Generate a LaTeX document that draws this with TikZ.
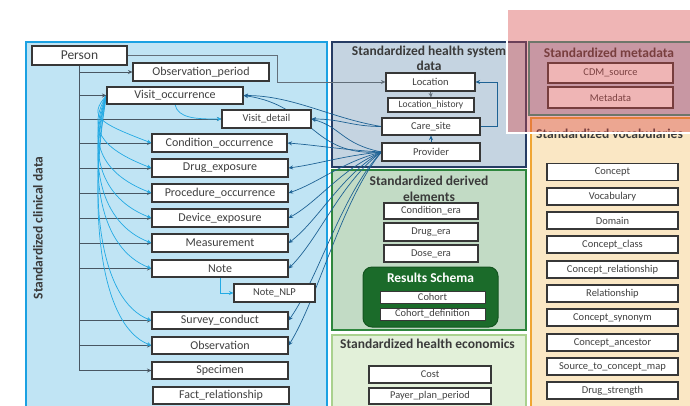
\documentclass[tikz,border=0pt]{standalone}
\usepackage{fontspec}
\setmainfont{Carlito}
\usetikzlibrary{arrows.meta,calc}
\pgfdeclarelayer{panels}
\pgfdeclarelayer{links}
\pgfdeclarelayer{top}
\pgfsetlayers{panels,links,main,top}

\definecolor{clinfill}{RGB}{192,228,244}
\definecolor{clindraw}{RGB}{27,161,226}
\definecolor{hsfill}{RGB}{197,212,225}
\definecolor{hsdraw}{RGB}{38,60,100}
\definecolor{derfill}{RGB}{194,219,197}
\definecolor{derdraw}{RGB}{46,135,62}
\definecolor{resfill}{RGB}{27,107,42}
\definecolor{resdraw}{RGB}{20,85,32}
\definecolor{econfill}{RGB}{226,240,217}
\definecolor{econdraw}{RGB}{169,209,142}
\definecolor{metafill}{RGB}{190,205,225}
\definecolor{metadraw}{RGB}{40,150,130}
\definecolor{vocfill}{RGB}{250,231,196}
\definecolor{vocdraw}{RGB}{240,165,50}
\definecolor{boxc}{RGB}{55,55,55}
\definecolor{txt}{RGB}{64,64,64}
\definecolor{ttlc}{RGB}{58,58,58}
\definecolor{spinec}{RGB}{72,86,98}
\definecolor{fkc}{RGB}{30,98,148}
\definecolor{vlc}{RGB}{35,170,228}
\definecolor{ovl}{RGB}{215,70,70}

\begin{document}
\begin{tikzpicture}[x=1pt,y=-1pt,
  tbl/.style={draw=boxc, line width=1.1pt, fill=white, inner sep=0pt, text=txt},
  clinbox/.style={tbl, font=\fontsize{12}{14}\selectfont, minimum width=136pt, minimum height=18pt},
  subbox/.style={tbl, font=\fontsize{10.5}{12}\selectfont, minimum height=18pt},
  hsbox/.style={tbl, font=\fontsize{10.5}{12}\selectfont, minimum width=98pt, minimum height=17pt},
  derbox/.style={tbl, font=\fontsize{10.4}{12}\selectfont, minimum width=94pt, minimum height=17pt},
  cohbox/.style={tbl, line width=0.9pt, font=\fontsize{10.4}{12}\selectfont, minimum width=105pt, minimum height=12pt},
  econbox/.style={tbl, font=\fontsize{10.4}{12}\selectfont, minimum width=122pt, minimum height=17pt},
  metabox/.style={tbl, font=\fontsize{10.4}{12}\selectfont, minimum width=125pt, minimum height=20pt},
  vocbox/.style={tbl, font=\fontsize{10.5}{12}\selectfont, minimum width=131pt, minimum height=17pt},
  ttl/.style={font=\fontsize{13.5}{15.5}\selectfont\bfseries, text=ttlc, align=center, inner sep=0pt},
  tip/.style={-{Stealth[length=4.5pt,width=4pt]}},
  spine/.style={tip, draw=spinec, line width=0.8pt},
  plink/.style={tip, draw=spinec!85, line width=0.8pt},
  fklink/.style={tip, draw=fkc, line width=0.7pt},
  volink/.style={tip, draw=vlc, line width=0.7pt}]

\useasboundingbox (0,0) rectangle (690,405);
\clip (0,0) rectangle (690,405);

% ---------- domain panels ----------
\begin{pgfonlayer}{panels}
  \filldraw[fill=clinfill, draw=clindraw, line width=1.6pt] (26,42) rectangle (327,412);
  \filldraw[fill=hsfill, draw=hsdraw, line width=1.2pt] (332,42) rectangle (526,167);
  \filldraw[fill=derfill, draw=derdraw, line width=1.2pt] (332,170) rectangle (526,330);
  \filldraw[fill=econfill, draw=econdraw, line width=1.2pt] (332,335) rectangle (526,412);
  \filldraw[fill=metafill, draw=metadraw, line width=1.2pt] (529,42) rectangle (700,115);
  \filldraw[fill=vocfill, draw=vocdraw, line width=1.6pt] (531,118) rectangle (700,412);
\end{pgfonlayer}

% ---------- panel titles ----------
\node[ttl, rotate=90] (clintitle) at (38,228) {Standardized clinical data};
\node[ttl, font=\fontsize{13.5}{15.5}\selectfont\bfseries] (hstitle) at (429,58.5) {Standardized health system\\data};
\node[ttl, font=\fontsize{13.5}{16}\selectfont\bfseries] (dertitle) at (429,189) {Standardized derived\\elements};
\node[ttl] (econtitle) at (427.5,343.5) {Standardized health economics};
\node[ttl] (metatitle) at (609,52.5) {Standardized metadata};
\node[ttl] (voctitle) at (609.5,134) {Standardized vocabularies};

% ---------- clinical tables ----------
\node[clinbox, minimum width=95pt, minimum height=19pt, font=\fontsize{13.5}{15}\selectfont] (person) at (79.5,55.5) {Person};
\node[clinbox] (obsper) at (201,72) {Observation\_period};
\node[clinbox, minimum height=17pt] (visitocc) at (175,95.5) {Visit\_occurrence};
\node[subbox, minimum width=89pt] (visitdet) at (266.5,119) {Visit\_detail};
\node[clinbox, minimum width=135pt] (cond) at (219.5,143) {Condition\_occurrence};
\node[clinbox] (drug) at (220,168) {Drug\_exposure};
\node[clinbox] (proc) at (220,193) {Procedure\_occurrence};
\node[clinbox] (dev) at (220,218) {Device\_exposure};
\node[clinbox] (meas) at (220,243) {Measurement};
\node[clinbox, minimum height=17pt] (note) at (220,268.5) {Note};
\node[subbox, minimum width=81pt] (notenlp) at (274.5,293) {Note\_NLP};
\node[clinbox, minimum height=17pt] (survey) at (220,320.5) {Survey\_conduct};
\node[clinbox, minimum height=17pt] (obs) at (220,345.5) {Observation};
\node[clinbox, minimum height=17pt] (specimen) at (220,370.5) {Specimen};
\node[clinbox, minimum height=17pt] (fact) at (221,395.5) {Fact\_relationship};

% ---------- health system tables ----------
\node[hsbox, minimum width=89pt, minimum height=18pt] (location) at (430.5,82) {Location};
\node[hsbox, minimum width=86pt, minimum height=14pt, font=\fontsize{9.6}{11}\selectfont] (lochist) at (431,105) {Location\_history};
\node[hsbox] (caresite) at (431,126.5) {Care\_site};
\node[hsbox, minimum height=18pt] (provider) at (431,152) {Provider};

% ---------- derived elements ----------
\node[derbox, minimum height=16pt] (condera) at (431,211) {Condition\_era};
\node[derbox, minimum height=18pt] (drugera) at (431,232) {Drug\_era};
\node[derbox] (doseera) at (431,253.5) {Dose\_era};
\node[draw=resdraw, fill=resfill, line width=1pt, rounded corners=9pt, minimum width=135pt, minimum height=60pt, inner sep=0pt] (results) at (430.5,297) {};
\node[ttl, text=white] (restitle) at (430.5,278) {Results Schema};
\node[cohbox] (cohort) at (432.5,297) {Cohort};
\node[cohbox] (cohortdef) at (432.5,314) {Cohort\_definition};

% ---------- health economics ----------
\node[econbox] (cost) at (430,374.5) {Cost};
\node[econbox, minimum height=16pt] (payer) at (430,396) {Payer\_plan\_period};

% ---------- metadata ----------
\node[metabox] (cdmsource) at (610.5,73) {CDM\_source};
\node[metabox, minimum height=21pt] (metadata) at (610.5,97.5) {Metadata};

% ---------- vocabularies ----------
\node[vocbox] (concept) at (612.5,172) {Concept};
\node[vocbox] (vocabulary) at (612.5,196.5) {Vocabulary};
\node[vocbox] (domain) at (612.5,220.5) {Domain};
\node[vocbox] (conceptclass) at (612.5,244.5) {Concept\_class};
\node[vocbox] (conceptrel) at (612.5,269.5) {Concept\_relationship};
\node[vocbox] (relationship) at (612.5,293.5) {Relationship};
\node[vocbox] (conceptsyn) at (612.5,317.5) {Concept\_synonym};
\node[vocbox] (conceptanc) at (612.5,342.5) {Concept\_ancestor};
\node[vocbox] (stcm) at (612.5,366.5) {Source\_to\_concept\_map};
\node[vocbox] (drugstrength) at (612.5,390.5) {Drug\_strength};

% ---------- references between tables ----------
\begin{pgfonlayer}{links}
  % person_id spine
  \draw[spine] (person.south) |- (specimen.west);
  \foreach \t in {obsper,visitocc,visitdet,cond,drug,proc,dev,meas,note,survey,obs}
    \draw[spine] (person.south |- \t.west) -- (\t.west);
  % person -> location
  \coordinate (pbend) at (277,0);
  \draw[plink] (person.east) -| (pbend |- location.west) -- (location.west);
  % visit_occurrence_id
  \foreach \t in {cond,drug,proc,dev,meas,note,survey,obs}
    \draw[volink] (visitocc.west) .. controls ($(visitocc.west)!0.45!(visitocc.west |- \t.west)+(-19,0)$) and ($(\t.west)+(-52,-20)$) .. (\t.west);
  \draw[volink] (visitocc.south) .. controls +(3,14) and +(-25,0) .. (visitdet.west);
  \draw[volink] (note.south) |- (notenlp.west);
  % provider_id
  \foreach \t in {visitdet,cond,drug,proc,dev,meas,note,survey,obs}
    \draw[fklink] (provider.west) .. controls ($(provider.west)!0.25!(provider.west |- \t.east)+(-40,0)$) and ($(\t.east)!0.25!(\t.east |- provider.west)+(30,0)$) .. (\t.east);
  \draw[fklink] (provider.west) .. controls +(-70,5) and +(70,10) .. (visitocc.east);
  % care_site_id
  \draw[fklink] (caresite.west) .. controls +(-50,-8) and +(50,0) .. (visitocc.east);
  \draw[fklink] (caresite.west) .. controls +(-30,0) and +(30,0) .. (visitdet.east);
  \draw[fklink] (provider.north) -- (caresite.south);
  \coordinate (cbend) at (497,0);
  \draw[fklink] (caresite.east) -| (cbend |- location.east) -- (location.east);
  % location_id
  \draw[plink] (location.south) -- (lochist.north);
\end{pgfonlayer}

% ---------- translucent highlight ----------
\begin{pgfonlayer}{top}
  \fill[ovl, fill opacity=0.4] (507,9) rectangle (700,133);
  \draw[white, line width=1.5pt] (507,9) rectangle (700,133);
\end{pgfonlayer}
\end{tikzpicture}
\end{document}
